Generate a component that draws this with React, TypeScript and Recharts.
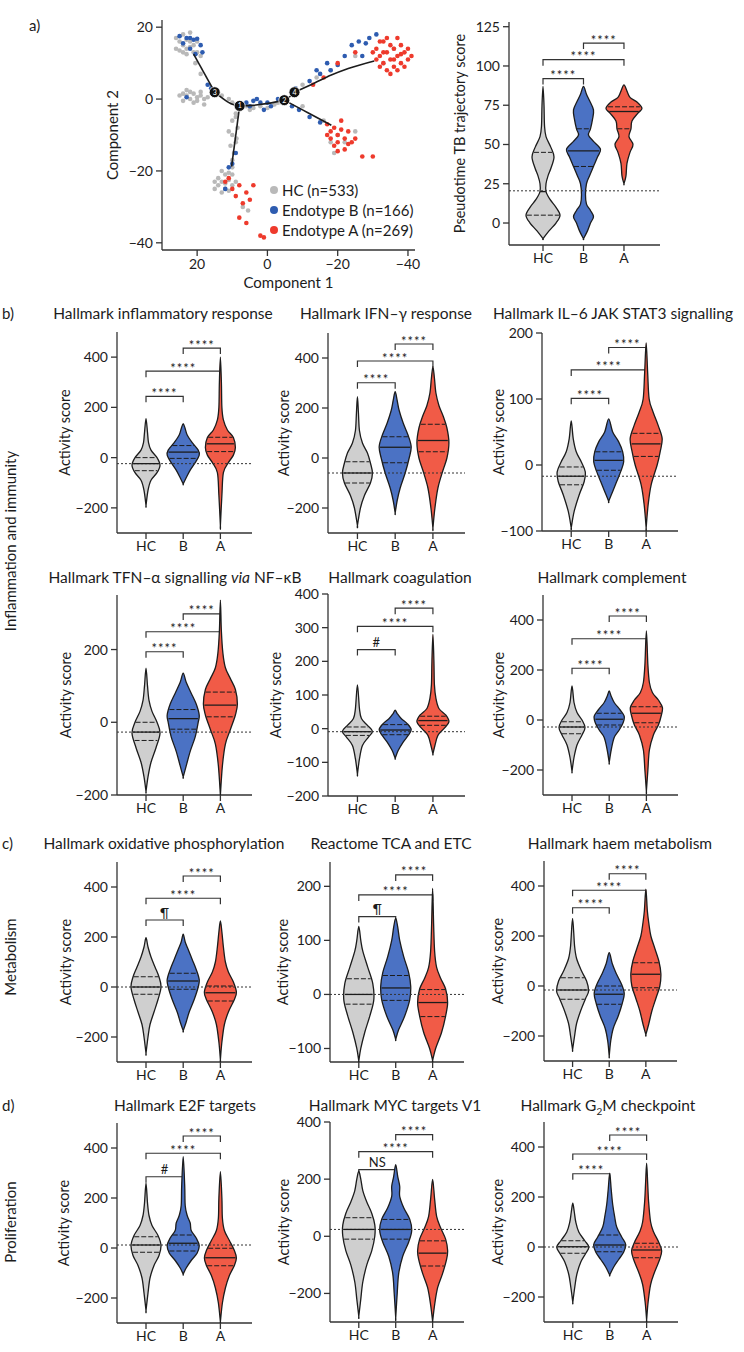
import React from "react";
import { ScatterChart, Scatter, XAxis, YAxis, ReferenceLine, Legend } from "recharts";

type Pt = [number, number];

const groups = ["HC", "B", "A"];
const violinFill = ["#cfcfcf", "#4b72c4", "#f15b47"];
const dotFill = ["#b9b9b9", "#2e5cb0", "#ee3a2c"];
const INK = "#1c1c1c";
const FONT = "Lato, 'Noto Sans', sans-serif";
const minus = (v: number) => (v < 0 ? `\u2212${Math.abs(v)}` : `${v}`);

// ---- a) trajectory (component 1 / component 2) ----
const hcCells: Pt[] = [
  [26, 17], [25, 16], [24, 15], [23, 14], [22, 14.5], [21, 15], [20, 13], [22, 16], [24, 13], [25, 13.5],
  [23, 16.5], [21, 13], [19, 12], [20, 16], [24, 18], [22, 18.5], [26, 14], [23, 12.5], [20.5, 10], [19, 7],
  [24, 1.5], [23, 1], [22, 0], [21, 1.5], [20, 0.5], [19, 1], [18, 0], [22, 2], [20, -0.5], [24, -0.5],
  [17, 0.5], [21, -1], [19, 2], [23, 2.5], [25, 1], [18, -1.5], [13, 1], [11, 0], [10, -1], [9, -1.5],
  [6, -2], [4, -2.5], [2, -2], [0, -2.5], [-2, -1.5], [-3, -1], [5, -3],
  [9, -4], [10, -6], [8.5, -8], [10, -10], [9, -12], [10.5, -13], [9.5, -15], [10, -17], [9, -5], [11, -9], [8.8, -11], [10, -19],
  [14, -22], [13, -23], [12, -21], [11, -22.5], [10, -24], [12, -25], [14, -24], [13, -26], [11, -20.5], [15, -23],
  [10, -21], [12, -23.5], [13, -20], [9, -23], [15, -25], [11, -25.5], [7, -30], [5.5, -31],
  [-10, 4], [-14, 6], [-18, 8], [-25, 12], [-33, 10], [-36, 14],
  [-10, -2], [-16, -6], [-20, -10], [-22, -12], [-25, -9], [-18, -12], [-19, -15],
];
const bCells: Pt[] = [
  [23, 17], [21, 16.5], [19, 15], [22, 14], [20, 16.8], [24, 15.5], [18.5, 13], [20.5, 12.5], [25, 17.5], [22, 17],
  [17, 4], [16, 3], [23, 0.5], [6, -1], [4, -0.5], [2, -1], [1, -3], [5, -2], [3, 0], [-1, -2], [-3, 0], [0, -1],
  [-8, 3], [-12, 5], [-15, 7], [-18, 8], [-20, 9.5], [-24, 15], [-26, 16], [-27, 12], [-29, 17], [-31, 18],
  [-22, 12], [-28, 15.5], [-14, 8], [-17, 10], [-9, -3], [-12, -5], [-15, -6.5], [-7, -2],
  [9, -15], [10, -18], [12, -25], [11, -19],
];
const aCells: Pt[] = [
  [-31, 14], [-32, 12], [-33, 10], [-34, 13], [-35, 11], [-36, 9], [-37, 12], [-38, 10], [-39, 13], [-40, 11],
  [-33, 16], [-35, 15], [-37, 8], [-34, 8], [-36, 14], [-38, 15], [-31, 11], [-32, 16], [-39, 9], [-41, 12],
  [-30, 13], [-35, 7], [-37, 17], [-33, 13], [-36, 11], [-34, 17], [-38, 12.5], [-32, 9], [-40, 14],
  [-16, 6], [-20, 10], [-25, 13], [-13, 4],
  [-17, -7], [-18, -9], [-19, -8], [-20, -10], [-21, -8.5], [-22, -11], [-18, -11], [-20, -12], [-23, -9],
  [-19, -13], [-21, -6], [-24, -12], [-17, -10], [-22, -14], [-25, -11], [-27, -16], [-30, -16], [-20, -14.5], [-23, -12.5],
  [12, -23], [10, -25], [8, -24], [6, -26], [9, -27], [7, -29], [5, -28], [8, -33], [6, -34.5], [2, -38], [1, -38.5], [11, -22], [4, -24],
];
const trajectory: Pt[][] = [
  [[21, 12.5], [15, 1.9]],
  [[15, 1.9], [7.9, -1.9], [-4.8, -0.3], [-7.7, 1.9]],
  [[7.9, -1.9], [10.2, -18.8]],
  [[-7.7, 1.9], [-13.3, 4.4], [-18, 6.6], [-23, 8.5], [-30.4, 10.6]],
  [[-4.8, -0.3], [-10, -3], [-15, -5.6], [-18.2, -7.3]],
];
const nodePos: Pt[] = [[15, 1.9], [7.9, -1.9], [-4.8, -0.3], [-7.7, 1.9]];
const nodeLabels = ["3", "1", "2", "4"];
const legendRows = ["HC (n=533)", "Endotype B (n=166)", "Endotype A (n=269)"];

// ---- a) pseudotime ----
const ptHC: Pt[] = [[-10, 0], [-5, 6], [0, 13], [5, 17], [10, 13], [15, 7], [20, 3], [25, 3], [30, 5], [35, 8], [42, 11], [48, 8], [55, 3], [62, 1.5], [75, 1], [87, 0]];
const ptB: Pt[] = [[-10, 0], [-5, 4], [0, 7], [4, 10], [8, 7], [12, 3], [18, 2], [25, 3], [30, 6], [36, 10], [42, 14], [47, 17], [52, 10], [56, 5], [60, 7], [66, 9], [72, 10], [78, 6], [82, 3], [87, 0]];
const ptA: Pt[] = [[25, 0], [30, 2], [38, 3], [45, 6], [50, 9], [55, 5], [60, 7], [65, 8], [70, 14], [73, 18], [77, 13], [80, 6], [84, 3], [88, 0]];
const ptQuart = [[5, 20, 45], [36, 46, 60], [60, 71, 74]];
const ptBrackets = [92, 104, 114.6];

// ---- b) inflammation and immunity ----
const inflHC: Pt[] = [[-190, 0], [-130, 2], [-90, 5], [-60, 11], [-30, 14], [0, 11], [30, 5], [60, 2.5], [100, 1.5], [155, 0]];
const inflB: Pt[] = [[-105, 0], [-80, 3], [-50, 7], [-20, 12], [10, 16], [30, 15], [60, 9], [90, 4], [115, 2], [135, 0]];
const inflA: Pt[] = [[-270, 0], [-150, 1.5], [-60, 3], [-20, 8], [10, 13], [40, 15], [80, 13], [110, 7], [150, 3], [200, 1.5], [300, 1], [400, 0]];
const inflQuart = [[-52, -24, 0], [-3, 22, 48], [24, 55, 81]];
const inflBrackets = [244, 344, 436];

const ifngHC: Pt[] = [[-270, 0], [-200, 3], [-150, 7], [-100, 13], [-60, 15], [-20, 13], [20, 10], [60, 5], [110, 2], [180, 1], [245, 0]];
const ifngB: Pt[] = [[-220, 0], [-170, 2], [-120, 5], [-60, 10], [0, 14], [45, 16], [90, 13], [140, 8], [190, 4], [230, 2], [265, 0]];
const ifngA: Pt[] = [[-280, 0], [-200, 2], [-120, 5], [-50, 10], [0, 14], [60, 16], [120, 14], [170, 10], [210, 6], [260, 3], [320, 1.5], [365, 0]];
const ifngQuart = [[-100, -60, -15], [-19, 43, 85], [25, 70, 135]];
const ifngBrackets = [301, 388, 456];

const il6HC: Pt[] = [[-95, 0], [-70, 3], [-45, 8], [-25, 13], [-10, 14], [5, 10], [20, 5], [40, 2], [67, 0]];
const il6B: Pt[] = [[-55, 0], [-40, 4], [-25, 8], [-10, 12], [5, 15], [20, 14], [35, 10], [50, 4], [70, 0]];
const il6A: Pt[] = [[-95, 0], [-60, 2], [-30, 5], [0, 11], [20, 14], [40, 16], [60, 12], [80, 7], [100, 3], [140, 1.5], [185, 0]];
const il6Quart = [[-30, -17, -3], [-8, 7, 20], [13, 32, 48]];
const il6Brackets = [101, 144, 178];

const tnfHC: Pt[] = [[-190, 0], [-150, 2], [-110, 5], [-70, 10], [-30, 14], [0, 11], [30, 6], [60, 3], [100, 1.5], [149, 0]];
const tnfB: Pt[] = [[-150, 0], [-120, 3], [-80, 7], [-40, 12], [0, 15], [20, 16], [50, 13], [80, 8], [110, 3], [135, 0]];
const tnfA: Pt[] = [[-200, 0], [-120, 2], [-60, 5], [-20, 10], [20, 15], [50, 17], [90, 15], [120, 10], [150, 5], [190, 2.5], [250, 1], [336, 0]];
const tnfQuart = [[-50, -27, 0], [-19, 10, 35], [15, 47, 83]];
const tnfBrackets = [194, 249, 298];

const coagHC: Pt[] = [[-135, 0], [-90, 2], [-50, 5], [-25, 11], [-8, 15], [10, 10], [30, 4], [60, 2], [130, 0]];
const coagB: Pt[] = [[-88, 0], [-65, 3], [-40, 8], [-20, 13], [-3, 16], [15, 12], [30, 6], [45, 2], [55, 0]];
const coagA: Pt[] = [[-75, 0], [-50, 2], [-20, 5], [0, 11], [20, 16], [40, 13], [60, 6], [90, 3], [130, 1.5], [200, 1], [280, 0]];
const coagQuart = [[-20, -9, 5], [-18, -4, 12], [10, 24, 37]];
const coagBrackets = [235, 304, 358];

const complHC: Pt[] = [[-205, 0], [-150, 2], [-100, 5], [-60, 10], [-30, 13], [0, 10], [30, 5], [70, 2], [136, 0]];
const complB: Pt[] = [[-170, 0], [-120, 2], [-70, 5], [-40, 10], [-10, 14], [15, 15], [40, 11], [70, 5], [95, 2], [116, 0]];
const complA: Pt[] = [[-285, 0], [-200, 1.5], [-120, 3], [-60, 7], [-20, 12], [20, 15], [50, 16], [80, 12], [110, 6], [150, 3], [220, 1.5], [356, 0]];
const complQuart = [[-55, -28, -7], [-20, 3, 27], [-11, 27, 53]];
const complBrackets = [207, 325, 416];

// ---- c) metabolism ----
const oxHC: Pt[] = [[-265, 0], [-200, 2], [-150, 4], [-100, 8], [-50, 12], [0, 15], [40, 13], [80, 9], [120, 5], [160, 2], [197, 0]];
const oxB: Pt[] = [[-175, 0], [-140, 3], [-100, 6], [-50, 11], [0, 15], [30, 16], [70, 13], [110, 9], [150, 5], [180, 2], [211, 0]];
const oxA: Pt[] = [[-290, 0], [-220, 1.5], [-150, 4], [-100, 8], [-50, 14], [-20, 16], [20, 13], [60, 8], [100, 5], [160, 3], [220, 1.5], [264, 0]];
const oxQuart = [[-29, 0, 41], [-9, 24, 55], [-56, -23, 4]];
const oxBrackets = [268, 355, 444];

const tcaHC: Pt[] = [[-123, 0], [-100, 2], [-70, 6], [-40, 11], [-10, 15], [20, 14], [50, 9], [80, 4], [100, 2], [126, 0]];
const tcaB: Pt[] = [[-83, 0], [-65, 3], [-40, 9], [-10, 14], [15, 15], [40, 13], [70, 8], [100, 4], [125, 2], [141, 0]];
const tcaA: Pt[] = [[-122, 0], [-100, 3], [-70, 9], [-40, 13], [-15, 15], [10, 13], [30, 8], [50, 4], [80, 2], [130, 1], [196, 0]];
const tcaQuart = [[-18, 0, 29], [-11, 12, 35], [-41, -15, 9]];
const tcaBrackets = [144, 184, 221];

const haemHC: Pt[] = [[-255, 0], [-200, 2], [-150, 4], [-100, 8], [-50, 13], [-20, 16], [20, 14], [60, 9], [110, 4], [160, 2], [270, 0]];
const haemB: Pt[] = [[-280, 0], [-220, 1.5], [-170, 4], [-120, 9], [-70, 13], [-30, 15], [10, 12], [50, 7], [90, 3], [133, 0]];
const haemA: Pt[] = [[-195, 0], [-150, 3], [-100, 6], [-50, 10], [0, 14], [50, 15], [100, 13], [150, 9], [200, 5], [250, 3], [300, 1.5], [387, 0]];
const haemQuart = [[-53, -16, 33], [-73, -33, 0], [-7, 47, 93]];
const haemBrackets = [313, 383, 449];

// ---- d) proliferation ----
const e2fHC: Pt[] = [[-250, 0], [-180, 2], [-120, 4], [-70, 8], [-30, 13], [10, 15], [50, 12], [90, 6], [130, 3], [180, 1.5], [259, 0]];
const e2fB: Pt[] = [[-105, 0], [-80, 3], [-50, 8], [-20, 14], [10, 16], [40, 13], [70, 8], [100, 7], [130, 4], [170, 2], [250, 1.5], [365, 0]];
const e2fA: Pt[] = [[-295, 0], [-220, 2], [-160, 5], [-110, 9], [-70, 14], [-40, 16], [-10, 14], [30, 9], [70, 4], [120, 2], [200, 1.5], [305, 0]];
const e2fQuart = [[-17, 12, 45], [-12, 19, 52], [-71, -39, -1]];
const e2fBrackets = [285, 379, 448];

const mycHC: Pt[] = [[-280, 0], [-220, 2], [-160, 4], [-100, 8], [-50, 13], [0, 16], [40, 16], [80, 13], [120, 8], [160, 4], [200, 2], [228, 0]];
const mycB: Pt[] = [[-285, 0], [-200, 1.5], [-130, 3], [-70, 7], [-20, 13], [20, 16], [60, 14], [100, 8], [140, 4], [175, 4], [210, 2], [251, 0]];
const mycA: Pt[] = [[-298, 0], [-240, 2], [-180, 5], [-130, 10], [-80, 14], [-50, 15], [-10, 13], [30, 8], [70, 4], [130, 2], [199, 0]];
const mycQuart = [[-10, 24, 65], [-10, 24, 59], [-104, -59, -16]];
const mycBrackets = [233, 296, 356];

const g2mHC: Pt[] = [[-220, 0], [-160, 2], [-110, 4], [-60, 8], [-25, 13], [0, 16], [25, 12], [60, 6], [100, 3], [140, 1.5], [175, 0]];
const g2mB: Pt[] = [[-112, 0], [-80, 4], [-50, 9], [-20, 14], [10, 16], [40, 12], [80, 7], [120, 5], [170, 3], [230, 1.5], [295, 0]];
const g2mA: Pt[] = [[-292, 0], [-220, 1.5], [-150, 4], [-100, 8], [-50, 13], [-15, 15], [20, 12], [60, 7], [100, 4], [180, 2], [260, 1], [335, 0]];
const g2mQuart = [[-25, 1, 25], [-19, 8, 48], [-43, -12, 15]];
const g2mBrackets = [293, 372, 448];

const STARS = ["****", "****", "****"];
const ticks400 = [-200, 0, 200, 400];

type ViolinCfg = {
  title: React.ReactNode;
  titleAt: [number, number];
  shapes: Pt[][];
  quart: number[][];
  brackets: number[];
  marks: string[];
  base: number;
  domain: [number, number];
  ticks: number[];
  box: [number, number, number, number];
  labelOffset: number;
  xDomain?: [number, number];
  yLabel?: string;
};

const SMALL_X: [number, number] = [0.22, 3.85];

const violins: ViolinCfg[] = [
  { title: "Hallmark inflammatory response", titleAt: [163, 313], shapes: [inflHC, inflB, inflA], quart: inflQuart, brackets: inflBrackets, marks: STARS, base: -24, domain: [-300, 500], ticks: ticks400, box: [117, 332, 252, 533], labelOffset: 52 },
  { title: "Hallmark IFN\u2013\u03b3 response", titleAt: [386, 313], shapes: [ifngHC, ifngB, ifngA], quart: ifngQuart, brackets: ifngBrackets, marks: STARS, base: -60, domain: [-300, 500], ticks: ticks400, box: [328, 333, 465, 533], labelOffset: 44 },
  { title: "Hallmark IL\u20136 JAK STAT3 signalling", titleAt: [613, 313], shapes: [il6HC, il6B, il6A], quart: il6Quart, brackets: il6Brackets, marks: STARS, base: -17, domain: [-100, 200], ticks: [-100, 0, 100, 200], box: [542, 333, 678, 531], labelOffset: 43 },
  { title: <>Hallmark TFN{"\u2013\u03b1"} signalling <i>via</i> NF{"\u2013\u03ba"}B</>, titleAt: [175, 577], shapes: [tnfHC, tnfB, tnfA], quart: tnfQuart, brackets: tnfBrackets, marks: STARS, base: -27, domain: [-200, 350], ticks: [-200, 0, 200], box: [117, 595, 252, 795], labelOffset: 51 },
  { title: "Hallmark coagulation", titleAt: [400, 577], shapes: [coagHC, coagB, coagA], quart: coagQuart, brackets: coagBrackets, marks: ["#", "****", "****"], base: -9, domain: [-200, 400], ticks: [-200, -100, 0, 100, 200, 300, 400], box: [328, 594, 465, 796], labelOffset: 52 },
  { title: "Hallmark complement", titleAt: [612, 577], shapes: [complHC, complB, complA], quart: complQuart, brackets: complBrackets, marks: STARS, base: -28, domain: [-300, 500], ticks: ticks400, box: [543, 595, 678, 795], labelOffset: 44 },
  { title: "Hallmark oxidative phosphorylation", titleAt: [164, 843], shapes: [oxHC, oxB, oxA], quart: oxQuart, brackets: oxBrackets, marks: ["\u00b6", "****", "****"], base: 0, domain: [-300, 500], ticks: ticks400, box: [117, 862, 252, 1062], labelOffset: 51 },
  { title: "Reactome TCA and ETC", titleAt: [391, 843], shapes: [tcaHC, tcaB, tcaA], quart: tcaQuart, brackets: tcaBrackets, marks: ["\u00b6", "****", "****"], base: 0, domain: [-125, 245], ticks: [-100, 0, 100, 200], box: [330, 862, 464, 1062], labelOffset: 47 },
  { title: "Hallmark haem metabolism", titleAt: [620, 843], shapes: [haemHC, haemB, haemA], quart: haemQuart, brackets: haemBrackets, marks: STARS, base: -16, domain: [-300, 500], ticks: ticks400, box: [544, 861, 677, 1061], labelOffset: 46 },
  { title: "Hallmark E2F targets", titleAt: [185, 1105], shapes: [e2fHC, e2fB, e2fA], quart: e2fQuart, brackets: e2fBrackets, marks: ["#", "****", "****"], base: 12, domain: [-300, 500], ticks: ticks400, box: [117, 1123, 252, 1323], labelOffset: 53 },
  { title: "Hallmark MYC targets V1", titleAt: [395, 1105], shapes: [mycHC, mycB, mycA], quart: mycQuart, brackets: mycBrackets, marks: ["NS", "****", "****"], base: 24, domain: [-300, 400], ticks: ticks400, box: [330, 1122, 464, 1322], labelOffset: 46 },
  { title: <>Hallmark G<sub style={{ fontSize: 10 }}>2</sub>M checkpoint</>, titleAt: [608, 1105], shapes: [g2mHC, g2mB, g2mA], quart: g2mQuart, brackets: g2mBrackets, marks: STARS, base: 0, domain: [-300, 500], ticks: ticks400, box: [544, 1122, 678, 1322], labelOffset: 46 },
];

const pseudotime: ViolinCfg = {
  title: "", titleAt: [0, 0], shapes: [ptHC, ptB, ptA], quart: ptQuart, brackets: ptBrackets, marks: STARS,
  base: 20.5, domain: [-14, 128], ticks: [0, 25, 50, 75, 100, 125], box: [509, 22, 660, 245], labelOffset: 49,
  xDomain: [0.16, 3.89], yLabel: "Pseudotime TB trajectory score",
};

const pairs = [[1, 2], [1, 3], [2, 3]];

function outline(shape: Pt[], center: number, pxPerUnit: number) {
  const right = shape.map(([y, w]) => ({ x: center + w / pxPerUnit, y }));
  const left = [...shape].reverse().slice(1).map(([y, w]) => ({ x: center - w / pxPerUnit, y }));
  return [...right, ...left];
}

function widthAt(shape: Pt[], v: number) {
  for (let i = 1; i < shape.length; i++) {
    const [ya, wa] = shape[i - 1];
    const [yb, wb] = shape[i];
    if (v >= ya && v <= yb) return wa + ((wb - wa) * (v - ya)) / (yb - ya);
  }
  return 0;
}

// smooth closed outline through the scaled points (Catmull-Rom)
function ViolinOutline(fill: string) {
  return (p: any) => {
    const pts: { x: number; y: number }[] = p.points;
    const n = pts.length;
    const at = (i: number) => pts[(i + n) % n];
    let d = `M${pts[0].x},${pts[0].y}`;
    for (let i = 0; i < n; i++) {
      const p0 = at(i - 1), p1 = at(i), p2 = at(i + 1), p3 = at(i + 2);
      const c1x = p1.x + (p2.x - p0.x) / 6, c1y = p1.y + (p2.y - p0.y) / 6;
      const c2x = p2.x - (p3.x - p1.x) / 6, c2y = p2.y - (p3.y - p1.y) / 6;
      d += `C${c1x},${c1y} ${c2x},${c2y} ${p2.x},${p2.y}`;
    }
    return <path d={d + "Z"} fill={fill} stroke={INK} strokeWidth={1.3} strokeLinejoin="round" />;
  };
}

const Hidden = () => <g />;

function bracketShape(mark: string) {
  return (p: any) => {
    const { x1, x2, y1 } = p;
    const stars = mark === "****";
    return (
      <g>
        <path d={`M${x1},${y1 + 6}V${y1}H${x2}V${y1 + 6}`} fill="none" stroke="#333" strokeWidth={1.2} />
        <text x={(x1 + x2) / 2} y={stars ? y1 + 1.5 : y1 - 2.5} textAnchor="middle" fontSize={13} letterSpacing={stars ? 1 : 0} fill={INK}>
          {mark}
        </text>
      </g>
    );
  };
}

const axisTick = { fill: INK, fontSize: 14 };
const axisLine = { stroke: "#333", strokeWidth: 1.3 };

function ViolinChart({ cfg }: { cfg: ViolinCfg }) {
  const [x0, y0, x1, y1] = cfg.box;
  const xDomain = cfg.xDomain ?? SMALL_X;
  const pxPerUnit = (x1 - x0) / (xDomain[1] - xDomain[0]);
  const yW = cfg.labelOffset * 2;
  const top = 8;
  const xH = 30;
  return (
    <div style={{ position: "absolute", left: x0 - yW, top: y0 - top }}>
      <ScatterChart width={yW + (x1 - x0) + 8} height={top + (y1 - y0) + xH} margin={{ top, right: 8, bottom: 0, left: 0 }}>
        <XAxis
          type="number"
          dataKey="x"
          domain={xDomain}
          allowDataOverflow
          ticks={[1, 2, 3]}
          interval={0}
          tickFormatter={(v: number) => groups[v - 1]}
          height={xH}
          tick={axisTick}
          tickSize={6}
          tickMargin={2}
          axisLine={axisLine}
          tickLine={axisLine}
        />
        <YAxis
          type="number"
          dataKey="y"
          domain={cfg.domain}
          allowDataOverflow
          ticks={cfg.ticks}
          interval={0}
          tickFormatter={minus}
          width={yW}
          tick={axisTick}
          tickSize={6}
          tickMargin={3}
          axisLine={axisLine}
          tickLine={axisLine}
          label={{ value: cfg.yLabel ?? "Activity score", angle: -90, position: "center", fill: INK, fontSize: 14.5 }}
        />
        {cfg.shapes.map((s, i) => (
          <Scatter
            key={`v${i}`}
            data={outline(s, i + 1, pxPerUnit)}
            line={ViolinOutline(violinFill[i])}
            shape={Hidden}
            isAnimationActive={false}
          />
        ))}
        <Scatter
          data={[{ x: xDomain[0], y: cfg.base }, { x: xDomain[1], y: cfg.base }]}
          line={{ stroke: "#333", strokeWidth: 1, strokeDasharray: "2 2" }}
          shape={Hidden}
          isAnimationActive={false}
        />
        {cfg.quart.map((q, i) =>
          q.map((v, j) => {
            const w = (widthAt(cfg.shapes[i], v) * 0.95) / pxPerUnit;
            return (
              <Scatter
                key={`q${i}-${j}`}
                data={[{ x: i + 1 - w, y: v }, { x: i + 1 + w, y: v }]}
                line={{ stroke: INK, strokeWidth: j === 1 ? 1.3 : 1, strokeDasharray: j === 1 ? undefined : "5 2" }}
                shape={Hidden}
                isAnimationActive={false}
              />
            );
          })
        )}
        {cfg.brackets.map((b, i) => (
          <ReferenceLine
            key={`b${i}`}
            segment={[{ x: pairs[i][0], y: b }, { x: pairs[i][1], y: b }]}
            shape={bracketShape(cfg.marks[i])}
            ifOverflow="visible"
          />
        ))}
      </ScatterChart>
    </div>
  );
}

const toXY = (pts: Pt[]) => pts.map(([x, y]) => ({ x, y }));
const dot = (fill: string) => (p: any) => <circle cx={p.cx} cy={p.cy} r={2.3} fill={fill} />;
const NodeMark = (p: any) => (
  <g>
    <circle cx={p.cx} cy={p.cy} r={5.5} fill="#111" stroke="#fff" strokeWidth={0.8} />
    <text x={p.cx} y={p.cy + 2.5} textAnchor="middle" fontSize={7} fill="#fff">
      {p.payload.label}
    </text>
  </g>
);

function TrajectoryChart() {
  const [x0, y0, x1, y1] = [162, 20, 415, 250];
  const yW = 98;
  const top = 8;
  const xH = 50;
  const nodes = nodePos.map(([x, y], i) => ({ x, y, label: nodeLabels[i] }));
  return (
    <div style={{ position: "absolute", left: x0 - yW, top: y0 - top }}>
      <ScatterChart width={yW + (x1 - x0) + 8} height={top + (y1 - y0) + xH} margin={{ top, right: 8, bottom: 0, left: 0 }}>
        <XAxis
          type="number"
          dataKey="x"
          domain={[-42, 30]}
          reversed
          allowDataOverflow
          ticks={[20, 0, -20, -40]}
          interval={0}
          tickFormatter={minus}
          height={xH}
          tick={axisTick}
          tickSize={6}
          tickMargin={3}
          axisLine={axisLine}
          tickLine={axisLine}
          label={{ value: "Component 1", position: "insideBottom", offset: 12, fill: INK, fontSize: 15 }}
        />
        <YAxis
          type="number"
          dataKey="y"
          domain={[-42, 22]}
          allowDataOverflow
          ticks={[-40, -20, 0, 20]}
          interval={0}
          tickFormatter={minus}
          width={yW}
          tick={axisTick}
          tickSize={6}
          tickMargin={3}
          axisLine={axisLine}
          tickLine={axisLine}
          label={{ value: "Component 2", angle: -90, position: "center", fill: INK, fontSize: 15 }}
        />
        <Scatter data={toXY(hcCells)} shape={dot(dotFill[0])} isAnimationActive={false} />
        <Scatter data={toXY(bCells)} shape={dot(dotFill[1])} isAnimationActive={false} />
        <Scatter data={toXY(aCells)} shape={dot(dotFill[2])} isAnimationActive={false} />
        {trajectory.map((seg, i) => (
          <Scatter
            key={`t${i}`}
            data={toXY(seg)}
            line={{ stroke: INK, strokeWidth: 1.6 }}
            lineJointType="monotoneX"
            shape={Hidden}
            isAnimationActive={false}
          />
        ))}
        <Scatter data={nodes} shape={NodeMark} isAnimationActive={false} />
        <Legend
          layout="vertical"
          align="center"
          verticalAlign="middle"
          wrapperStyle={{ left: 206, top: 168, width: 200 }}
          content={() => (
            <div style={{ fontSize: 15, color: INK, lineHeight: "20px" }}>
              {legendRows.map((r, i) => (
                <div key={r} style={{ display: "flex", alignItems: "center", whiteSpace: "nowrap" }}>
                  <span style={{ width: 8, height: 8, borderRadius: 4, background: dotFill[i], marginRight: 4, display: "inline-block" }} />
                  {r}
                </div>
              ))}
            </div>
          )}
        />
      </ScatterChart>
    </div>
  );
}

function Title({ at, children }: { at: [number, number]; children: React.ReactNode }) {
  return (
    <div style={{ position: "absolute", left: at[0] - 160, top: at[1] - 11, width: 320, textAlign: "center", fontSize: 15.5, lineHeight: "22px", whiteSpace: "nowrap", color: INK }}>
      {children}
    </div>
  );
}

function SideLabel({ text, x, y }: { text: string; x: number; y: number }) {
  return (
    <div style={{ position: "absolute", left: x - 150, top: y - 11, width: 300, textAlign: "center", fontSize: 15, lineHeight: "22px", transform: "rotate(-90deg)", color: INK, whiteSpace: "nowrap" }}>
      {text}
    </div>
  );
}

function Tag({ text, x, y }: { text: string; x: number; y: number }) {
  return <div style={{ position: "absolute", left: x, top: y - 11, fontSize: 15, lineHeight: "22px", color: INK }}>{text}</div>;
}

export default function App() {
  return (
    <div style={{ position: "absolute", left: 0, top: 0, width: 744, height: 1352, background: "#fff", fontFamily: FONT, color: INK }}>
      <Tag text="a)" x={29} y={25} />
      <Tag text="b)" x={2} y={313} />
      <Tag text="c)" x={2} y={843} />
      <Tag text="d)" x={2} y={1105} />
      <SideLabel text="Inflammation and immunity" x={10} y={541} />
      <SideLabel text="Metabolism" x={10} y={957} />
      <SideLabel text="Proliferation" x={10} y={1222} />
      <TrajectoryChart />
      <ViolinChart cfg={pseudotime} />
      {violins.map((c, i) => (
        <React.Fragment key={i}>
          <Title at={c.titleAt}>{c.title}</Title>
          <ViolinChart cfg={c} />
        </React.Fragment>
      ))}
    </div>
  );
}
